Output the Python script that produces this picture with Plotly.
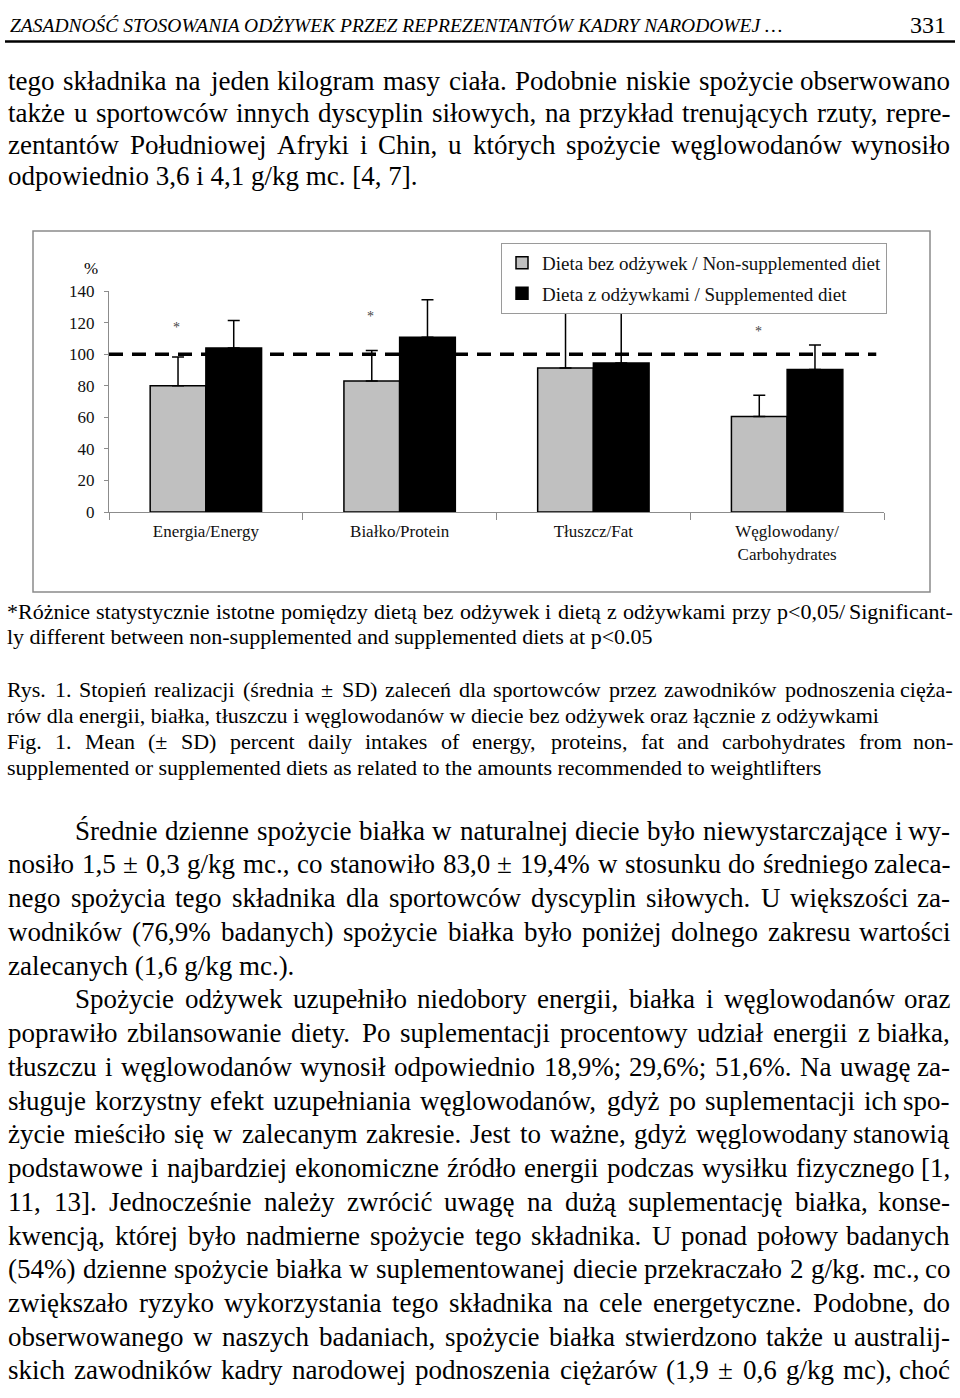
import plotly.graph_objects as go

# ---------------- chart data ----------------
categories = ["Energia/Energy", "Białko/Protein", "Tłuszcz/Fat", "Węglowodany/<br>Carbohydrates"]
non_supp = [80.0, 83.0, 91.3, 60.6]
non_supp_sd = [18.3, 19.4, 34.7, 13.4]
supp = [104.0, 110.8, 94.4, 90.4]
supp_sd = [17.3, 23.8, 40.0, 15.4]
star_y = [117.0, 124.0, None, 114.5]
reference_level = 100
y_ticks = [0, 20, 40, 60, 80, 100, 120, 140]
series_names = ["Dieta bez odżywek / Non-supplemented diet", "Dieta z odżywkami / Supplemented diet"]

# ---------------- page text ----------------
header_text = "ZASADNOŚĆ STOSOWANIA ODŻYWEK PRZEZ REPREZENTANTÓW KADRY NARODOWEJ …"
page_number = "331"
top_lines = [
    ("tego składnika na jeden kilogram masy ciała. Podobnie niskie spożycie obserwowano", True),
    ("także u sportowców innych dyscyplin siłowych, na przykład trenujących rzuty, repre-", True),
    ("zentantów Południowej Afryki i Chin, u których spożycie węglowodanów wynosiło", True),
    ("odpowiednio 3,6 i 4,1 g/kg mc. [4, 7].", False),
]
caption_lines = [
    ("*Różnice statystycznie istotne pomiędzy dietą bez odżywek i dietą z odżywkami przy p&lt;0,05/ Significant-", True),
    ("ly different between non-supplemented and supplemented diets at p&lt;0.05", False),
    ("Rys. 1. Stopień realizacji (średnia ± SD) zaleceń dla sportowców przez zawodników podnoszenia cięża-", True),
    ("rów dla energii, białka, tłuszczu i węglowodanów w diecie bez odżywek oraz łącznie z odżywkami", False),
    ("Fig. 1. Mean (± SD) percent daily intakes of energy, proteins, fat and carbohydrates from non-", True),
    ("supplemented or supplemented diets as related to the amounts recommended to weightlifters", False),
]
body_lines = [
    ("Średnie dzienne spożycie białka w naturalnej diecie było niewystarczające i wy-", True, True),
    ("nosiło 1,5 ± 0,3 g/kg mc., co stanowiło 83,0 ± 19,4% w stosunku do średniego zaleca-", True, False),
    ("nego spożycia tego składnika dla sportowców dyscyplin siłowych. U większości za-", True, False),
    ("wodników (76,9% badanych) spożycie białka było poniżej dolnego zakresu wartości", True, False),
    ("zalecanych (1,6 g/kg mc.).", False, False),
    ("Spożycie odżywek uzupełniło niedobory energii, białka i węglowodanów oraz", True, True),
    ("poprawiło zbilansowanie diety. Po suplementacji procentowy udział energii z białka,", True, False),
    ("tłuszczu i węglowodanów wynosił odpowiednio 18,9%; 29,6%; 51,6%. Na uwagę za-", True, False),
    ("sługuje korzystny efekt uzupełniania węglowodanów, gdyż po suplementacji ich spo-", True, False),
    ("życie mieściło się w zalecanym zakresie. Jest to ważne, gdyż węglowodany stanowią", True, False),
    ("podstawowe i najbardziej ekonomiczne źródło energii podczas wysiłku fizycznego [1,", True, False),
    ("11, 13]. Jednocześnie należy zwrócić uwagę na dużą suplementację białka, konse-", True, False),
    ("kwencją, której było nadmierne spożycie tego składnika. U ponad połowy badanych", True, False),
    ("(54%) dzienne spożycie białka w suplementowanej diecie przekraczało 2 g/kg. mc., co", True, False),
    ("zwiększało ryzyko wykorzystania tego składnika na cele energetyczne. Podobne, do", True, False),
    ("obserwowanego w naszych badaniach, spożycie białka stwierdzono także u australij-", True, False),
    ("skich zawodników kadry narodowej podnoszenia ciężarów (1,9 ± 0,6 g/kg mc), choć", True, False),
]

W, H = 960, 1398
FONT = "Liberation Serif, Times New Roman, serif"


def px(x):
    return x / W


def py(y):
    return 1 - y / H


# Times-Roman advance widths (per 1000 em) for justification
TW = {' ': 250, '!': 333, '%': 833, '(': 333, ')': 333, '*': 500, '+': 564, ',': 250, '-': 333,
      '.': 250, '/': 278, ':': 278, ';': 278, '<': 564, '>': 564, '?': 444, '[': 333, ']': 333,
      '±': 564, '…': 1000,
      'A': 722, 'B': 667, 'C': 667, 'D': 722, 'E': 611, 'F': 556, 'G': 722, 'H': 722, 'I': 333,
      'J': 389, 'K': 722, 'L': 611, 'M': 889, 'N': 722, 'O': 722, 'P': 556, 'Q': 722, 'R': 667,
      'S': 556, 'T': 611, 'U': 722, 'V': 722, 'W': 944, 'X': 722, 'Y': 722, 'Z': 611,
      'a': 444, 'b': 500, 'c': 444, 'd': 500, 'e': 444, 'f': 333, 'g': 500, 'h': 500, 'i': 278,
      'j': 278, 'k': 500, 'l': 278, 'm': 778, 'n': 500, 'o': 500, 'p': 500, 'q': 500, 'r': 333,
      's': 389, 't': 278, 'u': 500, 'v': 500, 'w': 722, 'x': 500, 'y': 500, 'z': 444,
      'ą': 444, 'ć': 444, 'ę': 444, 'ł': 278, 'ń': 500, 'ó': 500, 'ś': 389, 'ź': 444, 'ż': 444,
      'Ą': 722, 'Ć': 667, 'Ę': 611, 'Ł': 611, 'Ń': 722, 'Ó': 722, 'Ś': 556, 'Ź': 611, 'Ż': 611}


def word_width(w, size):
    w = w.replace("&lt;", "<")
    return sum(TW.get(c, 500) for c in w) / 1000.0 * size


annotations = []


def ann(text, x, y, anchor, size, italic=False, color="#000000"):
    annotations.append(dict(
        text=text, x=px(x), y=py(y), xref="paper", yref="paper",
        xanchor=anchor, yanchor="middle", showarrow=False, borderpad=0,
        font=dict(family=FONT, size=size, color=color,
                  style="italic" if italic else "normal")))


def add_line(text, y, left, right, size, justify):
    if not justify:
        ann(text, left, y, "left", size)
        return
    words = text.split(" ")
    widths = [word_width(w, size) for w in words]
    gap = (right - left - sum(widths)) / (len(words) - 1)
    x = left
    for i, (w, wd) in enumerate(zip(words, widths)):
        if i == len(words) - 1:
            ann(w, right, y, "right", size)
        else:
            ann(w, x, y, "left", size)
        x += wd + gap


# header
ann(header_text, 9, 17, "left", 19.5, italic=True)
ann(page_number, 947, 16, "right", 24)

# top paragraph
BODY = 27
for i, (t, j) in enumerate(top_lines):
    add_line(t, 73 + i * 32.2, 7, 951, BODY, j)

# captions
CAP = 22
cap_y = [611, 636, 690, 716, 743, 769]
for (t, j), yy in zip(caption_lines, cap_y):
    add_line(t, yy, 6, 954, CAP, j)

# body
for i, (t, j, indent) in enumerate(body_lines):
    left = 74 if indent else 7
    add_line(t, 833 + i * 34.2, left, 951, BODY, j)

# ---------------- chart ----------------
fig = go.Figure()
fig.add_trace(go.Bar(
    x=categories, y=non_supp, name=series_names[0], legendgroup="a",
    marker=dict(color="#c0c0c0", line=dict(color="#000000", width=1.5)),
    error_y=dict(type="data", array=non_supp_sd, arrayminus=[0] * len(non_supp), symmetric=False,
                 color="#000000", thickness=1.5, width=6)))
fig.add_trace(go.Bar(
    x=categories, y=supp, name=series_names[1], legendgroup="b",
    marker=dict(color="#000000", line=dict(color="#000000", width=1.5)),
    error_y=dict(type="data", array=supp_sd, arrayminus=[0] * len(supp), symmetric=False,
                 color="#000000", thickness=1.5, width=6)))

# significance stars above the non-supplemented bars
for c, s in zip(categories, star_y):
    if s is not None:
        annotations.append(dict(text="*", x=c, y=s, xref="x", yref="y", xshift=-29,
                                showarrow=False, yanchor="middle",
                                font=dict(family=FONT, size=14, color="#444444")))

# % label
ann("%", 91, 263, "center", 17)

shapes = [
    # header rule
    dict(type="line", xref="paper", yref="paper", x0=px(5), x1=px(955), y0=py(33), y1=py(33),
         line=dict(color="#000000", width=2.5)),
    # chart frame
    dict(type="rect", xref="paper", yref="paper", x0=px(33), x1=px(930), y0=py(591), y1=py(225),
         line=dict(color="#8a8a8a", width=1.5)),
    # recommended level
    dict(type="line", xref="x domain", yref="y", x0=0, x1=0.99, y0=reference_level, y1=reference_level,
         line=dict(color="#000000", width=3.5, dash="14px,9px")),
]

axis_col = "#8c8c8c"
fig.update_layout(
    width=W, height=H, autosize=False,
    margin=dict(l=0, r=0, t=0, b=0),
    paper_bgcolor="white", plot_bgcolor="white",
    barmode="group", bargap=0.425, bargroupgap=0,
    font=dict(family=FONT, color="#111111"),
    xaxis=dict(domain=[px(109), px(884)], type="category", tickson="boundaries",
               ticks="outside", ticklen=7, tickcolor=axis_col, showline=True, linecolor=axis_col,
               linewidth=1, showgrid=False, ticklabelstandoff=4,
               tickfont=dict(family=FONT, size=17, color="#111111")),
    yaxis=dict(domain=[py(510), py(286)], range=[0, 140], tickvals=y_ticks, ticks="outside",
               ticklen=4, tickcolor=axis_col, showline=True, linecolor=axis_col, linewidth=1,
               showgrid=False, zeroline=False, ticklabelstandoff=6,
               tickfont=dict(family=FONT, size=17, color="#111111")),
    legend=dict(x=px(501), y=py(237), xanchor="left", yanchor="top", bgcolor="white",
                bordercolor="#9a9a9a", borderwidth=1, traceorder="grouped", tracegroupgap=3,
                font=dict(family=FONT, size=19, color="#111111")),
    annotations=annotations,
    shapes=shapes,
)

fig.write_html("out.html", config={"displayModeBar": False},
               post_script="document.body.style.margin='0';document.body.style.overflow='hidden';")
